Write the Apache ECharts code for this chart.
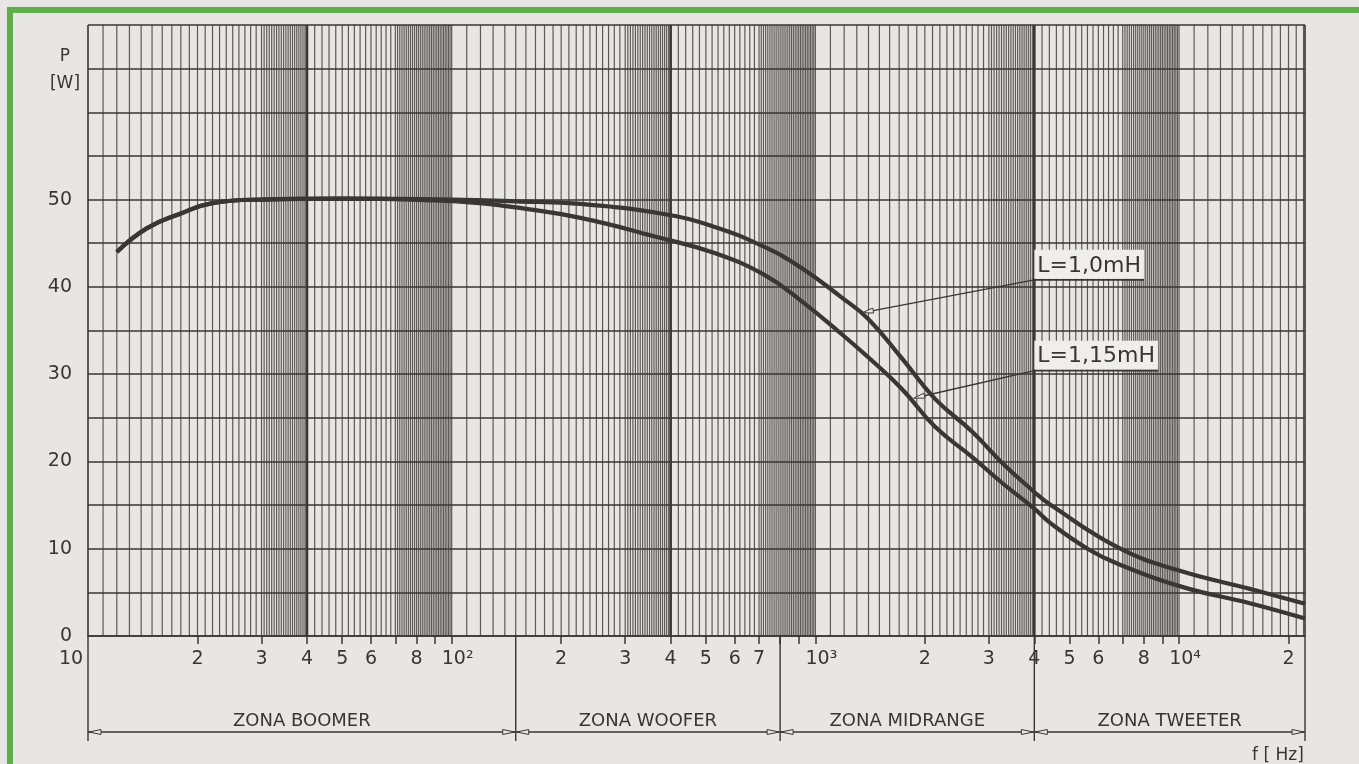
<!DOCTYPE html>
<html><head><meta charset="utf-8">
<script src="https://cdn.jsdelivr.net/npm/echarts@6/dist/echarts.min.js"></script>
<style>html,body{margin:0;padding:0;background:#e8e6e2;}#c{width:1359px;height:764px;}</style>
</head><body><div id="c"></div>
<script>
// ---- data ----
const freqL10  = [12, 14.5, 18, 22, 30, 50, 100, 150, 226, 376, 526, 722, 914, 1180, 1400, 1730, 2130, 2700, 3270, 4000, 4440, 6900, 10000, 15660, 22200];
const powerL10 = [44.0, 46.7, 48.4, 49.6, 50.0, 50.1, 50.0, 49.8, 49.5, 48.4, 46.9, 44.6, 42.2, 38.8, 36.3, 31.8, 27.2, 23.4, 19.8, 16.5, 15.0, 10.0, 7.5, 5.4, 3.7];
const freqL115  = [12, 14.5, 18, 22, 30, 50, 90, 119, 150, 226, 376, 526, 722, 914, 1180, 1400, 1730, 2130, 2700, 3270, 4000, 4440, 5600, 6760, 10250, 15660, 22200];
const powerL115 = [44.0, 46.7, 48.4, 49.6, 50.0, 50.1, 49.9, 49.6, 49.1, 47.9, 45.6, 43.9, 41.4, 38.4, 34.6, 31.9, 28.3, 24.0, 20.5, 17.5, 14.6, 12.9, 10.0, 8.3, 5.6, 3.75, 2.0];

const seriesNames = ['L=1,0mH', 'L=1,15mH'];
const annoCurveFreq = [1330, 1841];
const annoCurvePower = [37.0, 27.2];
const annoLabelFreq = [4000, 4000];
const annoLabelPower = [40.8, 30.4];

const xTickLabelValues = [10,20,30,40,50,60,80,100,200,300,400,500,600,700,1000,2000,3000,4000,5000,6000,8000,10000,20000];
const xTickLabelTexts  = ['10','2','3','4','5','6','8','10²','2','3','4','5','6','7','10³','2','3','4','5','6','8','10⁴','2'];
const yTickLabelValues = [0,10,20,30,40,50];

const zoneNames = ['ZONA BOOMER','ZONA WOOFER','ZONA MIDRANGE','ZONA TWEETER'];
const zoneStart = [10, 150, 800, 4000];
const zoneEnd   = [150, 800, 4000, 22200];

const xMin = 10, xMax = 22200;

// ---- log-paper grid rulings (paper design) ----
const gridFreqs = [];
const rulePattern = [[1,3,0.1],[3,4,0.05],[4,7,0.2],[7,10,0.1]];
for (const dec of [10,100,1000]) {
  for (const [a,b,s] of rulePattern) {
    const n = Math.round((b-a)/s);
    for (let i=0;i<n;i++) gridFreqs.push(dec*(a+i*s));
  }
}
for (let i=0;i<=12;i++) gridFreqs.push(10000*(1+i/10));
gridFreqs.push(xMax);
const tickFreqs = [];
for (const dec of [10,100,1000]) for (let m=2;m<=10;m++) tickFreqs.push(dec*m);
tickFreqs.push(20000);

const ink = '#383634';
const FONT = 'DejaVu Sans';

function measure(txt, size){
  const c = document.createElement('canvas').getContext('2d');
  c.font = size + 'px "' + FONT + '"';
  return c.measureText(txt).width;
}

const chart = echarts.init(document.getElementById('c'), null, {renderer:'canvas'});

const option = {
  backgroundColor: '#e8e6e2',
  animation: false,
  grid: {left: 88, right: 54, top: 25, bottom: 127},
  graphic: [
    {type:'rect', shape:{x:7, y:7, width:6, height:757}, style:{fill:'#5fae4a'}},
    {type:'rect', shape:{x:7, y:7, width:1352, height:6}, style:{fill:'#5fae4a'}}
  ],
  xAxis: {
    type: 'log', logBase: 10, min: xMin, max: xMax,
    name: 'f [ Hz]', nameLocation: 'end', nameGap: -53,
    nameTextStyle: {color: ink, fontFamily: FONT, fontSize: 17, align:'left', verticalAlign:'top', padding:[111,0,0,0]},
    axisLine: {show: true, lineStyle: {color: ink, width: 1.5}},
    axisTick: {show: true, length: 8, customValues: tickFreqs, lineStyle: {color: ink, width: 1.5}},
    axisLabel: {
      show: true, customValues: xTickLabelValues, margin: 14,
      color: ink, fontFamily: FONT, fontSize: 19,
      formatter: function(v){
        const i = xTickLabelValues.findIndex(t => Math.abs(t - v) / t < 1e-6);
        if (i < 0) return '';
        if (i === 0) return '{first|' + xTickLabelTexts[i] + '}';
        if (xTickLabelTexts[i].length > 2) return '{dec|' + xTickLabelTexts[i] + '}';
        return xTickLabelTexts[i];
      },
      rich: {
        first: {color: ink, fontFamily: FONT, fontSize: 19, padding: [0, 34, 0, 0]},
        dec: {color: ink, fontFamily: FONT, fontSize: 19, padding: [0, 0, 0, 12]}
      }
    },
    splitLine: {show: false}
  },
  yAxis: {
    type: 'value', min: 0, max: 70, interval: 5,
    name: 'P\n[W]', nameLocation: 'end', nameGap: -18,
    nameTextStyle: {color: ink, fontFamily: FONT, fontSize: 17, lineHeight: 27, align:'center', verticalAlign:'top', padding:[0, 46, 0, 0]},
    axisLine: {show: false},
    axisTick: {show: false},
    axisLabel: {customValues: yTickLabelValues, color: ink, fontFamily: FONT, fontSize: 19, margin: 16},
    splitLine: {show: true, lineStyle: {color: ink, width: 1.5}}
  },
  series: [
    {
      type: 'custom', name: 'rulings', coordinateSystem: 'cartesian2d', clip: false, silent: true, z: 1,
      data: [[xMin, 0]], encode: {x: 0, y: 1},
      renderItem: function(params, api){
        const y0 = api.coord([xMin, 0])[1], y1 = api.coord([xMin, 70])[1];
        const children = [];
        for (const f of gridFreqs) {
          const x = api.coord([f, 0])[0];
          const m = f / Math.pow(10, Math.floor(Math.log10(f) + 1e-9));
          const bold = Math.abs(m - 4) < 1e-6;
          const edge = (f === xMin || f === xMax);
          children.push({type:'line', shape:{x1:x, y1:y0, x2:x, y2:y1},
            style:{stroke: ink, lineWidth: bold ? 2.6 : (edge ? 1.6 : 1.2), opacity: bold||edge ? 1 : 0.8}});
        }
        return {type:'group', children};
      }
    },
    {
      type: 'line', name: seriesNames[0], z: 5,
      data: freqL10.map((f,i) => [f, powerL10[i]]),
      smooth: 0.45, showSymbol: false, symbol: 'none',
      lineStyle: {color: '#3a3633', width: 4.2}
    },
    {
      type: 'line', name: seriesNames[1], z: 5,
      data: freqL115.map((f,i) => [f, powerL115[i]]),
      smooth: 0.45, showSymbol: false, symbol: 'none',
      lineStyle: {color: '#3a3633', width: 4.2}
    },
    {
      type: 'custom', name: 'zones', coordinateSystem: 'cartesian2d', clip: false, silent: true, z: 4,
      data: zoneStart.map((s,i) => [s, zoneEnd[i]]),
      encode: {x: 0},
      renderItem: function(params, api){
        const i = params.dataIndex;
        const p0 = api.coord([api.value(0), 0]);
        const p1 = api.coord([api.value(1), 0]);
        const x0 = p0[0], x1 = p1[0], yA = p0[1];
        const yDim = yA + 96;
        const st = {stroke: ink, lineWidth: 1.4};
        const children = [
          {type:'line', shape:{x1:x0, y1:yA, x2:x0, y2:yA+105}, style: st},
          {type:'line', shape:{x1:x0, y1:yDim, x2:x1, y2:yDim}, style: st},
          {type:'polygon', shape:{points:[[x0+1,yDim],[x0+13,yDim-2.5],[x0+13,yDim+2.5]]}, style:{fill:'#e8e6e2', stroke: ink, lineWidth: 1}},
          {type:'polygon', shape:{points:[[x1-1,yDim],[x1-13,yDim-2.5],[x1-13,yDim+2.5]]}, style:{fill:'#e8e6e2', stroke: ink, lineWidth: 1}},
          {type:'text', style:{text: zoneNames[i], x:(x0+x1)/2, y: yDim-11, textAlign:'center', textVerticalAlign:'middle',
            fill: ink, font: '18px "' + FONT + '"'}}
        ];
        if (i === zoneStart.length - 1) children.push({type:'line', shape:{x1:x1, y1:yA, x2:x1, y2:yA+105}, style: st});
        return {type:'group', children};
      }
    },
    {
      type: 'custom', name: 'annotations', coordinateSystem: 'cartesian2d', clip: false, silent: true, z: 6,
      data: annoLabelFreq.map((f,i) => [f, annoLabelPower[i], annoCurveFreq[i], annoCurvePower[i]]),
      encode: {x: 0, y: 1},
      renderItem: function(params, api){
        const i = params.dataIndex;
        const L = api.coord([api.value(0), api.value(1)]);
        const C = api.coord([api.value(2), api.value(3)]);
        const txt = seriesNames[i];
        const w = measure(txt, 22) + 6;
        const dx = L[0]-C[0], dy = L[1]-C[1], len = Math.sqrt(dx*dx+dy*dy);
        const ux = dx/len, uy = dy/len, nx = -uy, ny = ux;
        const a0 = [C[0]+ux*2, C[1]+uy*2];
        const ab = [C[0]+ux*13, C[1]+uy*13];
        return {type:'group', children:[
          {type:'rect', shape:{x:L[0], y:L[1]-30, width:w, height:29}, style:{fill:'#efeeeb'}},
          {type:'text', style:{text: txt, x: L[0]+3, y: L[1]-3, textAlign:'left', textVerticalAlign:'bottom', fill: ink, font: '22px "' + FONT + '"'}},
          {type:'line', shape:{x1:L[0], y1:L[1], x2:L[0]+w, y2:L[1]}, style:{stroke: ink, lineWidth: 1.6}},
          {type:'line', shape:{x1:ab[0], y1:ab[1], x2:L[0], y2:L[1]}, style:{stroke: ink, lineWidth: 1.4}},
          {type:'polygon', shape:{points:[a0, [ab[0]+nx*2.5, ab[1]+ny*2.5], [ab[0]-nx*2.5, ab[1]-ny*2.5]]}, style:{fill:'#efeeeb', stroke: ink, lineWidth: 1}}
        ]};
      }
    }
  ]
};
chart.setOption(option);
</script>
</body></html>
